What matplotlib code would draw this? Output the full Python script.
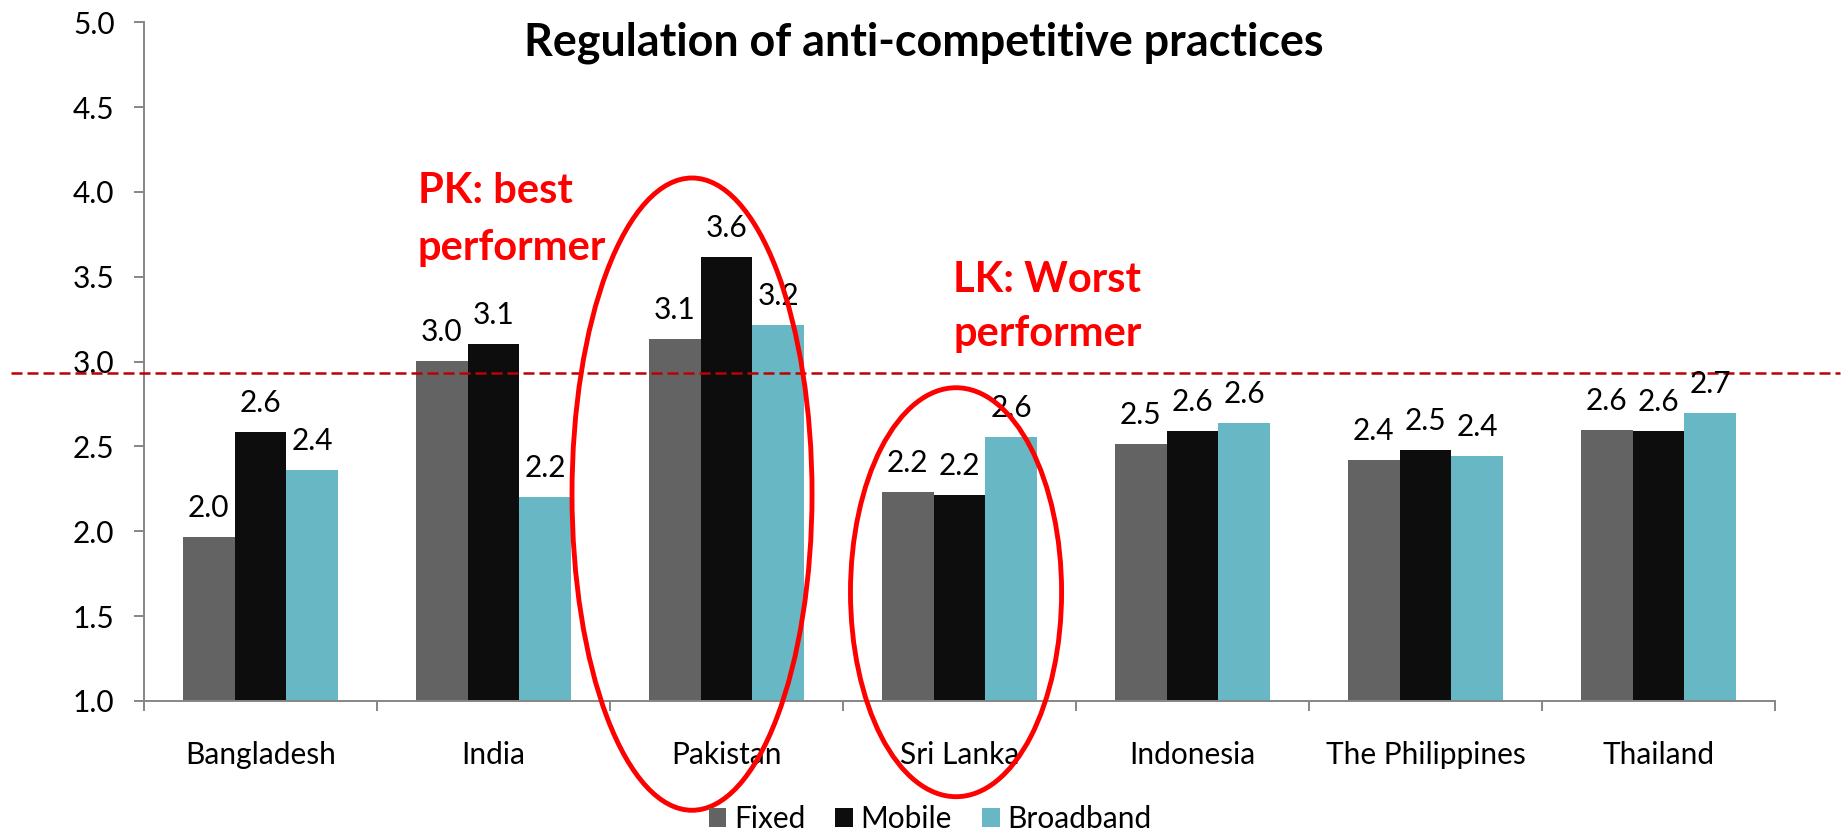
import matplotlib
matplotlib.use("Agg")
import matplotlib.pyplot as plt
from matplotlib.patches import Ellipse, Patch
import numpy as np

categories = ["Bangladesh", "India", "Pakistan", "Sri Lanka", "Indonesia",
              "The Philippines", "Thailand"]
fixed = [1.965, 3.003, 3.133, 2.230, 2.513, 2.419, 2.596]
mobile = [2.583, 3.103, 3.616, 2.213, 2.590, 2.478, 2.590]
broadband = [2.360, 2.201, 3.215, 2.555, 2.637, 2.443, 2.700]
series_names = ["Fixed", "Mobile", "Broadband"]
series_colors = ["#636363", "#0D0D0D", "#67B8C4"]
benchmark = 2.934
yticks = [1.0, 1.5, 2.0, 2.5, 3.0, 3.5, 4.0, 4.5, 5.0]
title = "Regulation of anti-competitive practices"

FONT = "Lato"
plt.rcParams['font.family'] = [FONT, 'DejaVu Sans']

fig = plt.figure(figsize=(18.41, 8.38), dpi=100)
ax = fig.add_axes([0.0782, 0.1635, 0.886, 0.81])

x = np.arange(len(categories))
w = 0.222
for k, (vals, name, col) in enumerate(zip([fixed, mobile, broadband], series_names, series_colors)):
    ax.bar(x + (k - 1) * w, vals, width=w, bottom=0, color=col, label=name, zorder=2)
    for xi, v in zip(x + (k - 1) * w, vals):
        ax.annotate(f"{v:.1f}", (xi, v), xytext=(0, 20), textcoords="offset pixels",
                    ha="center", va="baseline", fontsize=21.5, color="#000000", zorder=5)

ax.set_ylim(1.0, 5.0)
ax.set_xlim(-0.5, len(categories) - 0.5)
ax.set_yticks(yticks)
ax.set_yticklabels([f"{t:.1f}" for t in yticks], fontsize=21.5)

ax.set_xticks(np.arange(-0.5, len(categories)), labels=[""] * (len(categories) + 1))
ax.set_xticks(x, labels=categories, minor=True, fontsize=21.5)
ax.tick_params(axis="x", which="minor", length=0, pad=29)
ax.tick_params(axis="x", which="major", length=7.2, width=1.4, color="#868686", direction="out")
ax.tick_params(axis="y", length=7.2, width=1.4, color="#868686", direction="out", pad=14)

for s in ["top", "right"]:
    ax.spines[s].set_visible(False)
for s in ["left", "bottom"]:
    ax.spines[s].set_color("#868686")
    ax.spines[s].set_linewidth(1.4)

# benchmark dashed line spanning the figure width
ax.axhline(benchmark, xmin=-0.0816, xmax=1.04, color="#C00000", lw=1.8,
           linestyle=(0, (4.4, 2)), clip_on=False, zorder=4)

# ellipses
ax.add_patch(Ellipse((1.852, 2.219), 1.03, 3.726, fill=False, edgecolor="#FF0000",
                     lw=3.5, clip_on=False, zorder=6))
ax.add_patch(Ellipse((2.985, 1.641), 0.906, 2.41, fill=False, edgecolor="#FF0000",
                     lw=3.5, clip_on=False, zorder=6))

# annotations
ann = dict(color="#FF0000", fontsize=30, fontweight="bold", ha="left", va="baseline", zorder=7)
ax.text(0.676, 3.935, "PK: best", **ann)
ax.text(0.676, 3.60, "performer", **ann)
ax.text(2.972, 3.41, "LK: Worst", **ann)
ax.text(2.972, 3.09, "performer", **ann)

fig.text(0.502, 1 - 55 / 838, title, fontsize=32.3, fontweight="bold",
         ha="center", va="baseline")

handles = [Patch(facecolor=c, edgecolor="none") for c in series_colors]
fig.legend(handles, series_names, loc="center", bbox_to_anchor=(930 / 1841, 1 - 819 / 838),
           ncol=3, frameon=False, fontsize=21.5, handlelength=0.6, handleheight=0.6,
           handletextpad=0.25, columnspacing=1.0, borderpad=0.1)

fig.savefig("out.png", dpi=100)
